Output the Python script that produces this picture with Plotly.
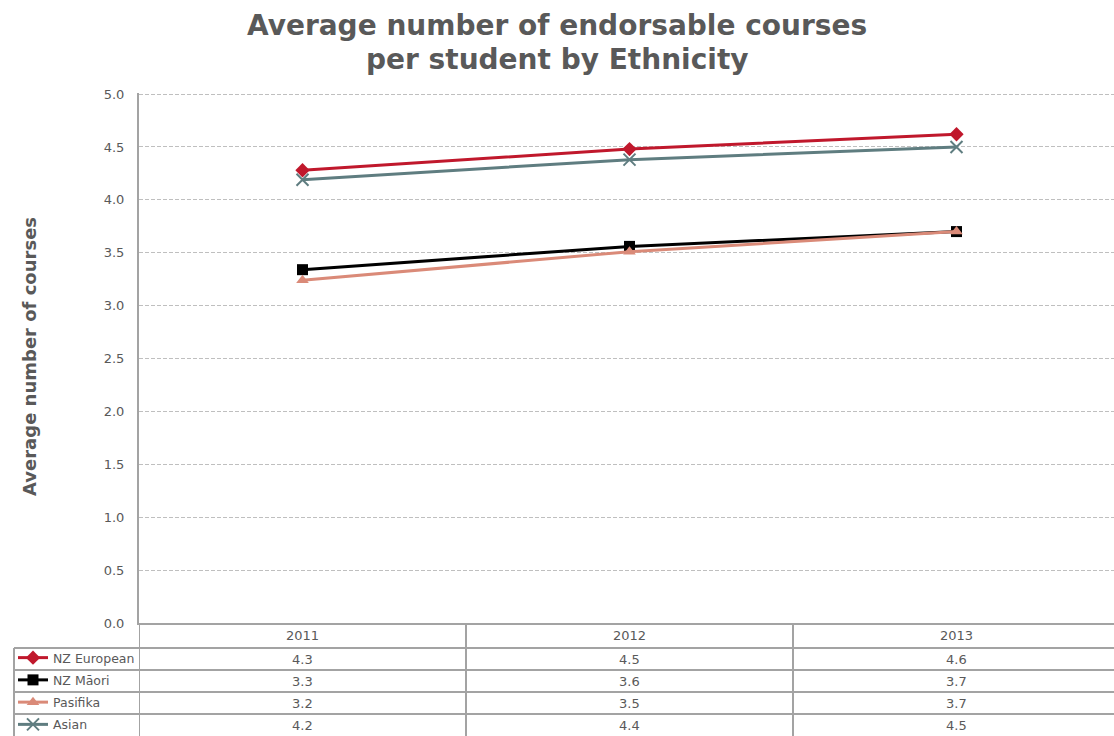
import plotly.graph_objects as go

# data
years = ["2011", "2012", "2013"]
nz_european = [4.28, 4.48, 4.62]
nz_maori = [3.34, 3.56, 3.70]
pasifika = [3.24, 3.51, 3.70]
asian = [4.19, 4.38, 4.50]

series_names = ["NZ European", "NZ Māori", "Pasifika", "Asian"]
series_values = [nz_european, nz_maori, pasifika, asian]
series_colors = ["#C0182C", "#000000", "#DA8A78", "#5F7D80"]
series_symbols = ["diamond", "square", "triangle-up", "x-thin-open"]

title_lines = ["Average number of endorsable courses", "per student by Ethnicity"]
y_title = "Average number of courses"

W, H = 1114, 736
GREY = "#595959"
LINE = "#A3A3A3"
FONT = "DejaVu Sans"

# pixel layout helpers
plot_left = 139 / W
plot_bottom = (H - 623) / H
plot_top = (H - 93) / H
table_left = 14 / W

fig = go.Figure()

xi = list(range(len(years)))
for name, vals, col, sym in zip(series_names, series_values, series_colors, series_symbols):
    fig.add_trace(go.Scatter(
        x=xi, y=vals, name=name, mode="lines+markers",
        line=dict(color=col, width=3),
        marker=dict(symbol=sym, size=11 if sym != "x-thin-open" else 12, color=col,
                    line=dict(color=col, width=2 if sym == "x-thin-open" else 0)),
        legendgroup=name, hoverinfo="skip",
    ))

# table rows on a second y axis (row index, 22px per row)
n_rows = len(series_names)
header_h = 25 / 22
fig.update_layout(
    yaxis2=dict(domain=[0, plot_bottom], range=[n_rows - 0.5, -0.5 - header_h],
                anchor="x", visible=False, fixedrange=True),
)

annotations = []
for j, yr in enumerate(years):
    annotations.append(dict(x=j, y=-0.5 - header_h / 2, xref="x", yref="y2", text=yr,
                            showarrow=False, font=dict(size=13, color=GREY, family=FONT)))
for i, vals in enumerate(series_values):
    for j, v in enumerate(vals):
        annotations.append(dict(x=j, y=i, xref="x", yref="y2", text=f"{v:.1f}",
                                showarrow=False, font=dict(size=13, color=GREY, family=FONT)))

# chart title and y axis title
for line, ypx in zip(title_lines, [26, 59]):
    annotations.append(dict(x=0.5, y=1 - ypx / H, xref="paper", yref="paper", xanchor="center",
                            yanchor="middle", showarrow=False, text=f"<b>{line}</b>",
                            font=dict(size=28, color=GREY, family=FONT)))
annotations.append(dict(x=29 / W, y=1 - 357 / H, xref="paper", yref="paper", xanchor="center",
                        yanchor="middle", showarrow=False, textangle=-90,
                        text=f"<b>{y_title}</b>",
                        font=dict(size=18, color=GREY, family=FONT)))

shapes = []
for i in range(n_rows):
    shapes.append(dict(type="line", xref="paper", yref="y2", x0=table_left, x1=1,
                       y0=i - 0.5, y1=i - 0.5, line=dict(color=LINE, width=2)))
shapes.append(dict(type="line", xref="paper", yref="y2", x0=table_left, x1=table_left,
                   y0=-0.5, y1=n_rows - 0.5, line=dict(color=LINE, width=2)))
for j in range(len(years)):
    shapes.append(dict(type="line", xref="x", yref="y2", x0=j - 0.5, x1=j - 0.5,
                       y0=-0.5 - header_h, y1=n_rows - 0.5, line=dict(color=LINE, width=2)))

fig.update_layout(
    width=W, height=H,
    margin=dict(l=0, r=0, t=0, b=0, autoexpand=False),
    paper_bgcolor="white", plot_bgcolor="white",
    font=dict(family=FONT, color=GREY, size=12),
    xaxis=dict(domain=[plot_left, 1], range=[-0.5, 2.5 - 6 / 327], showticklabels=False,
               showgrid=False, zeroline=False, showline=True, linecolor=LINE, linewidth=2,
               ticks="", fixedrange=True, automargin=False),
    yaxis=dict(domain=[plot_bottom, plot_top], range=[0, 5.01], dtick=0.5, tickformat=".1f",
               showgrid=True, gridcolor="#BFBFBF", griddash="4px,2px", gridwidth=1,
               zeroline=False, showline=True, linecolor=LINE, linewidth=2,
               ticks="", ticklabelstandoff=10, tickfont=dict(size=13, color=GREY),
               automargin=False, fixedrange=True),
    showlegend=True,
    legend=dict(x=13 / W, xanchor="left", y=(H - 643) / H, yanchor="top",
                traceorder="grouped", tracegroupgap=3, itemwidth=30,
                font=dict(size=12.5, color=GREY), bgcolor="rgba(0,0,0,0)"),
    annotations=annotations,
    shapes=shapes,
)

# drop the default page margin so the figure fills the window
fig.write_html("out.html", config={"displayModeBar": False},
               post_script="document.body.style.margin='0';")
